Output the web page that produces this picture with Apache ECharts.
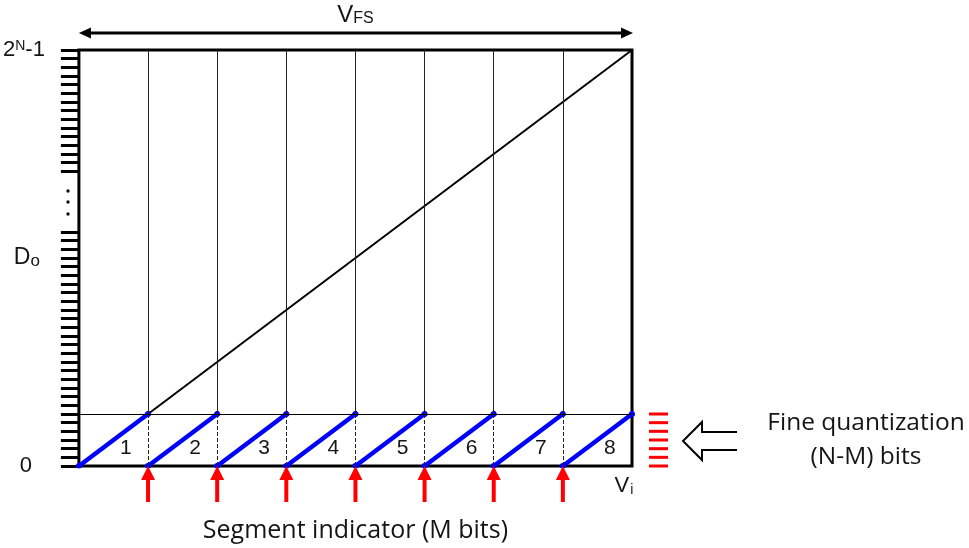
<!DOCTYPE html>
<html><head><meta charset="utf-8">
<script src="https://cdn.jsdelivr.net/npm/echarts@6/dist/echarts.min.js"></script>
<style>html,body{margin:0;padding:0;background:#fff}#c{width:969px;height:548px}</style>
</head><body><div id="c"></div>
<script>
// ---- data ----
const segmentLabels = ['1', '2', '3', '4', '5', '6', '7', '8'];
const segmentStarts = [0, 1, 2, 3, 4, 5, 6, 7];
const segmentCount = 8;
const fineTop = 6;            // codes per segment (fine quantization range)
const fullScaleCode = 48;     // 2^N-1 on this drawing
const fineCodes = [0, 1, 2, 3, 4, 5, 6];
const indicatorPositions = [1, 2, 3, 4, 5, 6, 7];
const codeTicks = [0,1,2,3,4,5,6,7,8,9,10,11,12,13,14,15,16,17,18,19,20,21,22,23,24,25,26,27,
                   34,35,36,37,38,39,40,41,42,43,44,45,46,47,48];
const codeLabelValues = [0, 24, 48];
const codeLabelTexts = ['{z|0}', '{d|D}{o|o}', '{t|2}{n|N}{t|-1}'];
const inputLabelValues = [8];

const chart = echarts.init(document.getElementById('c'), null, {renderer: 'canvas'});
const arial = 'Liberation Sans';
const humanist = 'Open Sans';
const txt = '#151515';

const markData = [];
indicatorPositions.forEach(x => {
  markData.push([{coord: [x, fineTop], lineStyle: {type: 'solid', color: '#222', width: 1}}, {coord: [x, fullScaleCode]}]);
  markData.push([{coord: [x, 0], lineStyle: {type: [4, 2], color: '#222', width: 1}}, {coord: [x, fineTop]}]);
});
markData.push([{coord: [0, fineTop], lineStyle: {type: 'solid', color: '#000', width: 1}}, {coord: [segmentCount, fineTop]}]);

const option = {
  animation: false,
  backgroundColor: '#fff',
  grid: {left: 77, right: 337, top: 50, bottom: 81, show: true, borderColor: '#000', borderWidth: 3, backgroundColor: 'transparent'},
  xAxis: {
    type: 'value', min: 0, max: segmentCount, interval: 1,
    axisLine: {show: false}, axisTick: {show: false}, splitLine: {show: false},
    axisLabel: {
      customValues: inputLabelValues, margin: 9,
      formatter: () => '{v|V}{i|i}',
      rich: {
        v: {fontFamily: arial, fontSize: 22, color: txt, verticalAlign: 'top'},
        i: {fontFamily: arial, fontSize: 14, color: txt, verticalAlign: 'bottom', padding: [0, 0, 0, 1]}
      },
      padding: [0, 16, 0, 0]
    },
    name: 'Segment indicator (M bits)', nameLocation: 'middle', nameGap: 52,
    nameTextStyle: {fontFamily: humanist, fontSize: 25, color: txt}
  },
  yAxis: {
    type: 'value', min: 0, max: fullScaleCode,
    axisLine: {show: false}, splitLine: {show: false},
    axisTick: {show: true, customValues: codeTicks, length: 18, lineStyle: {color: '#000', width: 3}},
    axisLabel: {
      customValues: codeLabelValues, margin: 34,
      formatter: v => codeLabelTexts[codeLabelValues.indexOf(v)],
      rich: {
        z: {fontFamily: arial, fontSize: 22, color: txt, padding: [0, 13, 0, 0]},
        d: {fontFamily: arial, fontSize: 23, color: txt, verticalAlign: 'top'},
        o: {fontFamily: arial, fontSize: 17, color: txt, verticalAlign: 'bottom', padding: [6, 5, 0, 0]},
        t: {fontFamily: arial, fontSize: 22, color: txt, verticalAlign: 'bottom'},
        n: {fontFamily: arial, fontSize: 14, color: txt, verticalAlign: 'top', padding: [0, 0, 4, 0]}
      }
    }
  },
  series: [
    {
      type: 'line', data: [], z: 1, silent: true,
      markLine: {silent: true, symbol: 'none', label: {show: false}, animation: false, data: markData}
    },
    {
      type: 'line', z: 2, silent: true, symbol: 'none',
      lineStyle: {color: '#000', width: 2},
      data: [[segmentStarts[0], 0], [segmentCount, fullScaleCode]]
    },
    {
      type: 'lines', coordinateSystem: 'cartesian2d', z: 3, silent: true,
      symbol: ['circle', 'circle'], symbolSize: 6,
      lineStyle: {color: '#0000ff', width: 4.5, opacity: 1, cap: 'round'},
      data: segmentStarts.map(s => ({coords: [[s, 0], [s + 1, fineTop]]}))
    },
    {
      // segment numbers
      type: 'custom', z: 4, silent: true,
      data: segmentStarts.map(s => [s, 0]),
      renderItem: (params, api) => {
        const p = api.coord([api.value(0) + 0.68, fineTop * 0.35]);
        return {type: 'text', style: {text: segmentLabels[params.dataIndex], x: p[0], y: p[1], align: 'center', verticalAlign: 'middle',
          font: '21px "Liberation Sans"', fill: txt}};
      }
    },
    {
      // red segment indicator arrows
      type: 'custom', z: 5, silent: true,
      data: indicatorPositions.map(x => [x, 0]),
      renderItem: (params, api) => {
        const p = api.coord([api.value(0), api.value(1)]);
        return {type: 'group', children: [
          {type: 'polygon', shape: {points: [[p[0], p[1]], [p[0] - 7, p[1] + 14], [p[0] + 7, p[1] + 14]]}, style: {fill: '#ff0000'}},
          {type: 'rect', shape: {x: p[0] - 2, y: p[1] + 13, width: 4, height: 23}, style: {fill: '#ff0000'}}
        ]};
      }
    },
    {
      // red fine quantization dashes
      type: 'custom', z: 5, silent: true,
      data: fineCodes.map(v => [segmentCount, v]),
      renderItem: (params, api) => {
        const p = api.coord([api.value(0), api.value(1)]);
        return {type: 'rect', shape: {x: p[0] + 17, y: p[1] - 1.5, width: 19, height: 3}, style: {fill: '#ff0000'}};
      }
    },
    {
      // V_FS double arrow
      type: 'custom', z: 5, silent: true,
      data: [[segmentStarts[0], fullScaleCode]],
      renderItem: (params, api) => {
        const a = api.coord([api.value(0), api.value(1)]);
        const b = api.coord([segmentCount, api.value(1)]);
        const y = a[1] - 17;
        return {type: 'group', children: [
          {type: 'line', shape: {x1: a[0] + 6, y1: y, x2: b[0] - 6, y2: y}, style: {stroke: '#000', lineWidth: 3}},
          {type: 'polygon', shape: {points: [[a[0], y], [a[0] + 12, y - 5.5], [a[0] + 12, y + 5.5]]}, style: {fill: '#000'}},
          {type: 'polygon', shape: {points: [[b[0] + 1, y], [b[0] - 11, y - 5.5], [b[0] - 11, y + 5.5]]}, style: {fill: '#000'}},
          {type: 'text', style: {text: '{v|V}{s|FS}', x: (a[0] + b[0]) / 2, y: y - 18, align: 'center', verticalAlign: 'middle',
            rich: {
              v: {fontFamily: arial, fontSize: 24, fill: txt, verticalAlign: 'top'},
              s: {fontFamily: arial, fontSize: 16, fill: txt, verticalAlign: 'bottom'}
            }}}
        ]};
      }
    }
  ],
  graphic: [
    {type: 'circle', shape: {cx: 68, cy: 191, r: 1.7}, style: {fill: '#111'}},
    {type: 'circle', shape: {cx: 68, cy: 202, r: 1.7}, style: {fill: '#111'}},
    {type: 'circle', shape: {cx: 68, cy: 214, r: 1.7}, style: {fill: '#111'}},
    {type: 'polyline', shape: {points: [[737, 432], [702, 432], [702, 422], [683, 441], [702, 460], [702, 450], [737, 450]]},
      style: {stroke: '#000', lineWidth: 2, fill: null}},
    {type: 'text', style: {text: 'Fine quantization\n(N-M) bits', x: 866, y: 440, align: 'center', verticalAlign: 'middle',
      font: '24.5px "Open Sans"', lineHeight: 34, fill: txt}}
  ]
};
chart.setOption(option);
</script>
</body></html>
